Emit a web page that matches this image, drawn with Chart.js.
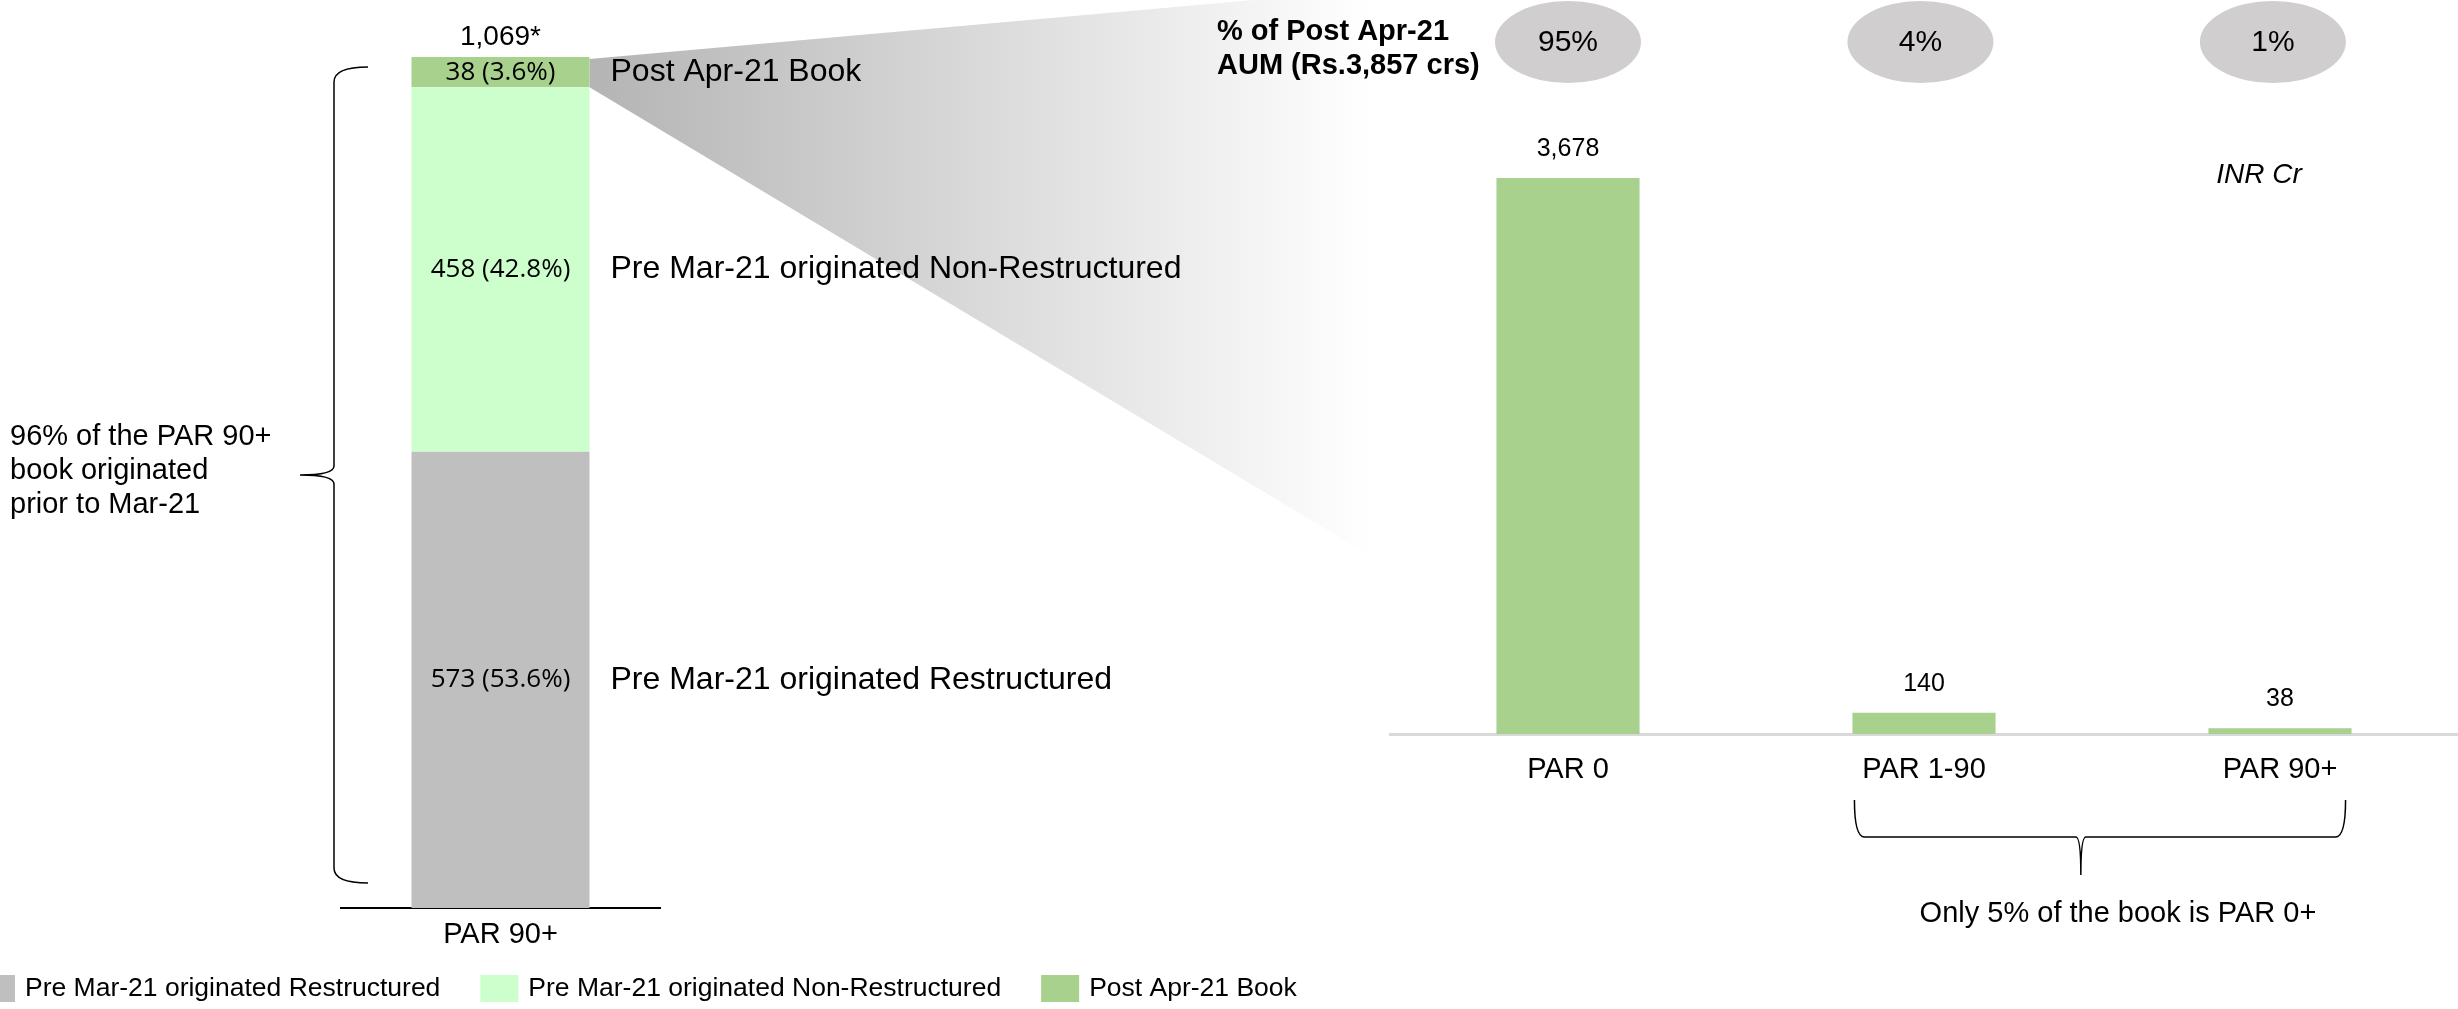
<!DOCTYPE html>
<html>
<head>
<meta charset="utf-8">
<script src="https://cdn.jsdelivr.net/npm/chart.js@4.4.1/dist/chart.umd.min.js"></script>
<style>
  html, body { margin: 0; padding: 0; background: #fff; }
  #wrap { position: relative; width: 2458px; height: 1009px; overflow: hidden; }
  #wrap canvas { position: absolute; left: 0; top: 0; }
</style>
</head>
<body>
<div id="wrap">
  <canvas id="bookChart" width="2458" height="1009"></canvas>
  <canvas id="parChart" width="2458" height="1009"></canvas>
</div>
<script>
// PAR 90+ book split (INR Cr)
const bookCategory = ['PAR 90+'];
const bookSeries = ['Pre Mar-21 originated Restructured', 'Pre Mar-21 originated Non-Restructured', 'Post Apr-21 Book'];
const bookValues = [573, 458, 38];
const bookTotalLabel = '1,069*';
const bookColors = ['#bfbfbf', '#ccffcc', '#a9d18e'];
const sideNote = ['96% of the PAR 90+', 'book originated', 'prior to Mar-21'];

// Post Apr-21 book by bucket (INR Cr)
const parCategories = ['PAR 0', 'PAR 1-90', 'PAR 90+'];
const parValues = [3678, 140, 38];
const parShareLabels = ['95%', '4%', '1%'];
const parTitle = ['% of Post Apr-21', 'AUM (Rs.3,857 crs)'];
const unitLabel = 'INR Cr';
const bracketNote = 'Only 5% of the book is PAR 0+';

const sans = '"Liberation Sans", Arial, sans-serif';
Chart.defaults.font.family = sans;
Chart.defaults.color = '#000';

const bookTotal = bookValues.reduce((a, b) => a + b, 0);

const bookDecor = {
    id: 'bookDecor',
    beforeDatasetsDraw(chart) {
        // grey "zoom" wedge coming out of the Post Apr-21 segment
        const ctx = chart.ctx;
        const seg = chart.getDatasetMeta(2).data[0];
        const xr = seg.x + seg.width / 2;
        const xEnd = 1370;
        const g = ctx.createLinearGradient(xr, 0, xEnd, 0);
        g.addColorStop(0, '#b4b4b4');
        g.addColorStop(1, '#ffffff');
        ctx.save();
        ctx.fillStyle = g;
        ctx.beginPath();
        ctx.moveTo(xr, seg.y + 2);
        ctx.lineTo(xEnd, seg.y + 2 - (xEnd - xr) * 0.0888);
        ctx.lineTo(xEnd, seg.base + (xEnd - xr) * 0.6);
        ctx.lineTo(xr, seg.base);
        ctx.closePath();
        ctx.fill();
        ctx.restore();
    },
    afterDatasetsDraw(chart) {
        const ctx = chart.ctx;
        ctx.save();
        ctx.fillStyle = '#000';
        ctx.textBaseline = 'middle';

        chart.data.datasets.forEach((ds, i) => {
            const el = chart.getDatasetMeta(i).data[0];
            const v = ds.data[0];
            const cy = (el.y + el.base) / 2;
            ctx.font = '26px "Open Sans", sans-serif';
            ctx.textAlign = 'center';
            ctx.fillText(v + ' (' + (v / bookTotal * 100).toFixed(1) + '%)', el.x, cy);
            ctx.font = '32px ' + sans;
            ctx.textAlign = 'left';
            ctx.fillText(ds.label, el.x + el.width / 2 + 21, cy);
        });

        const top = chart.getDatasetMeta(2).data[0];
        ctx.font = '28px ' + sans;
        ctx.textAlign = 'center';
        ctx.fillText(bookTotalLabel, top.x, top.y - 20);

        // left brace
        ctx.strokeStyle = '#000';
        ctx.lineWidth = 1.5;
        ctx.beginPath();
        ctx.moveTo(368, 67);
        ctx.quadraticCurveTo(334, 67, 334, 82);
        ctx.lineTo(334, 466);
        ctx.quadraticCurveTo(334, 475, 300, 475);
        ctx.quadraticCurveTo(334, 475, 334, 484);
        ctx.lineTo(334, 868);
        ctx.quadraticCurveTo(334, 883, 368, 883);
        ctx.stroke();

        ctx.font = '29px ' + sans;
        ctx.textAlign = 'left';
        sideNote.forEach((t, i) => ctx.fillText(t, 10, 437 + i * 34));

        // legend along the bottom
        let x = -23;
        ctx.font = '26.5px ' + sans;
        chart.data.datasets.forEach((ds) => {
            ctx.fillStyle = ds.backgroundColor;
            ctx.fillRect(x, 975, 38, 27);
            ctx.fillStyle = '#000';
            ctx.fillText(ds.label, x + 48, 989);
            x += 48 + ctx.measureText(ds.label).width + 40;
        });
        ctx.restore();
    }
};

new Chart(document.getElementById('bookChart'), {
    type: 'bar',
    data: {
        labels: bookCategory,
        datasets: bookSeries.map((name, i) => ({
            label: name,
            data: [bookValues[i]],
            backgroundColor: bookColors[i],
            borderWidth: 0,
            barPercentage: 0.558,
            categoryPercentage: 1
        }))
    },
    options: {
        responsive: false,
        animation: false,
        layout: { padding: { left: 341, top: 57, right: 1798, bottom: 0 } },
        plugins: { legend: { display: false }, tooltip: { enabled: false } },
        scales: {
            x: {
                stacked: true,
                grid: { display: false, drawTicks: false },
                border: { display: true, color: '#000', width: 2 },
                ticks: { font: { size: 29 }, padding: 10, color: '#000' },
                afterFit: (s) => { s.height = 101; }
            },
            y: { stacked: true, display: false, min: 0, max: bookTotal }
        }
    },
    plugins: [bookDecor]
});

const parDecor = {
    id: 'parDecor',
    afterDatasetsDraw(chart) {
        const ctx = chart.ctx;
        const bars = chart.getDatasetMeta(0).data;
        const step = (bars[1].x - bars[0].x) * 0.99;
        ctx.save();
        ctx.textBaseline = 'middle';
        ctx.textAlign = 'center';

        bars.forEach((el, i) => {
            ctx.fillStyle = '#000';
            ctx.font = '25px ' + sans;
            ctx.fillText(parValues[i].toLocaleString('en-US'), el.x, el.y - 29);

            const bx = bars[0].x + i * step;
            ctx.fillStyle = '#d0cece';
            ctx.beginPath();
            ctx.ellipse(bx, 42, 73, 41, 0, 0, Math.PI * 2);
            ctx.fill();
            ctx.fillStyle = '#000';
            ctx.font = '30px ' + sans;
            ctx.fillText(parShareLabels[i], bx, 43);
        });

        ctx.font = 'bold 29px ' + sans;
        ctx.textAlign = 'left';
        parTitle.forEach((t, i) => ctx.fillText(t, 1217, 32 + i * 34));

        ctx.font = 'italic 28px ' + sans;
        ctx.textAlign = 'center';
        ctx.fillText(unitLabel, 2259, 175);

        // brace under PAR 1-90 and PAR 90+
        const l = bars[1].x - bars[1].width / 2 + 2;
        const r = bars[2].x + bars[2].width / 2 - 6;
        const tip = l + (r - l) * 0.461;
        ctx.strokeStyle = '#000';
        ctx.lineWidth = 1.5;
        ctx.beginPath();
        ctx.moveTo(l, 800);
        ctx.quadraticCurveTo(l, 837, l + 10, 837);
        ctx.lineTo(tip - 5, 837);
        ctx.quadraticCurveTo(tip, 837, tip, 875);
        ctx.quadraticCurveTo(tip, 837, tip + 5, 837);
        ctx.lineTo(r - 10, 837);
        ctx.quadraticCurveTo(r, 837, r, 800);
        ctx.stroke();

        ctx.font = '29px ' + sans;
        ctx.fillText(bracketNote, 2118, 914);
        ctx.restore();
    }
};

new Chart(document.getElementById('parChart'), {
    type: 'bar',
    data: {
        labels: parCategories,
        datasets: [{
            label: 'Post Apr-21 AUM',
            data: parValues,
            backgroundColor: '#a9d18e',
            borderWidth: 0,
            barPercentage: 0.402,
            categoryPercentage: 1
        }]
    },
    options: {
        responsive: false,
        animation: false,
        layout: { padding: { left: 1390, top: 178, right: 0, bottom: 0 } },
        plugins: { legend: { display: false }, tooltip: { enabled: false } },
        scales: {
            x: {
                grid: { display: false, drawTicks: false },
                border: { display: true, color: '#d9d9d9', width: 3 },
                ticks: { font: { size: 29 }, padding: 19, color: '#000' },
                afterFit: (s) => { s.height = 275; }
            },
            y: { display: false, min: 0, max: Math.max(...parValues) }
        }
    },
    plugins: [parDecor]
});
</script>
</body>
</html>
